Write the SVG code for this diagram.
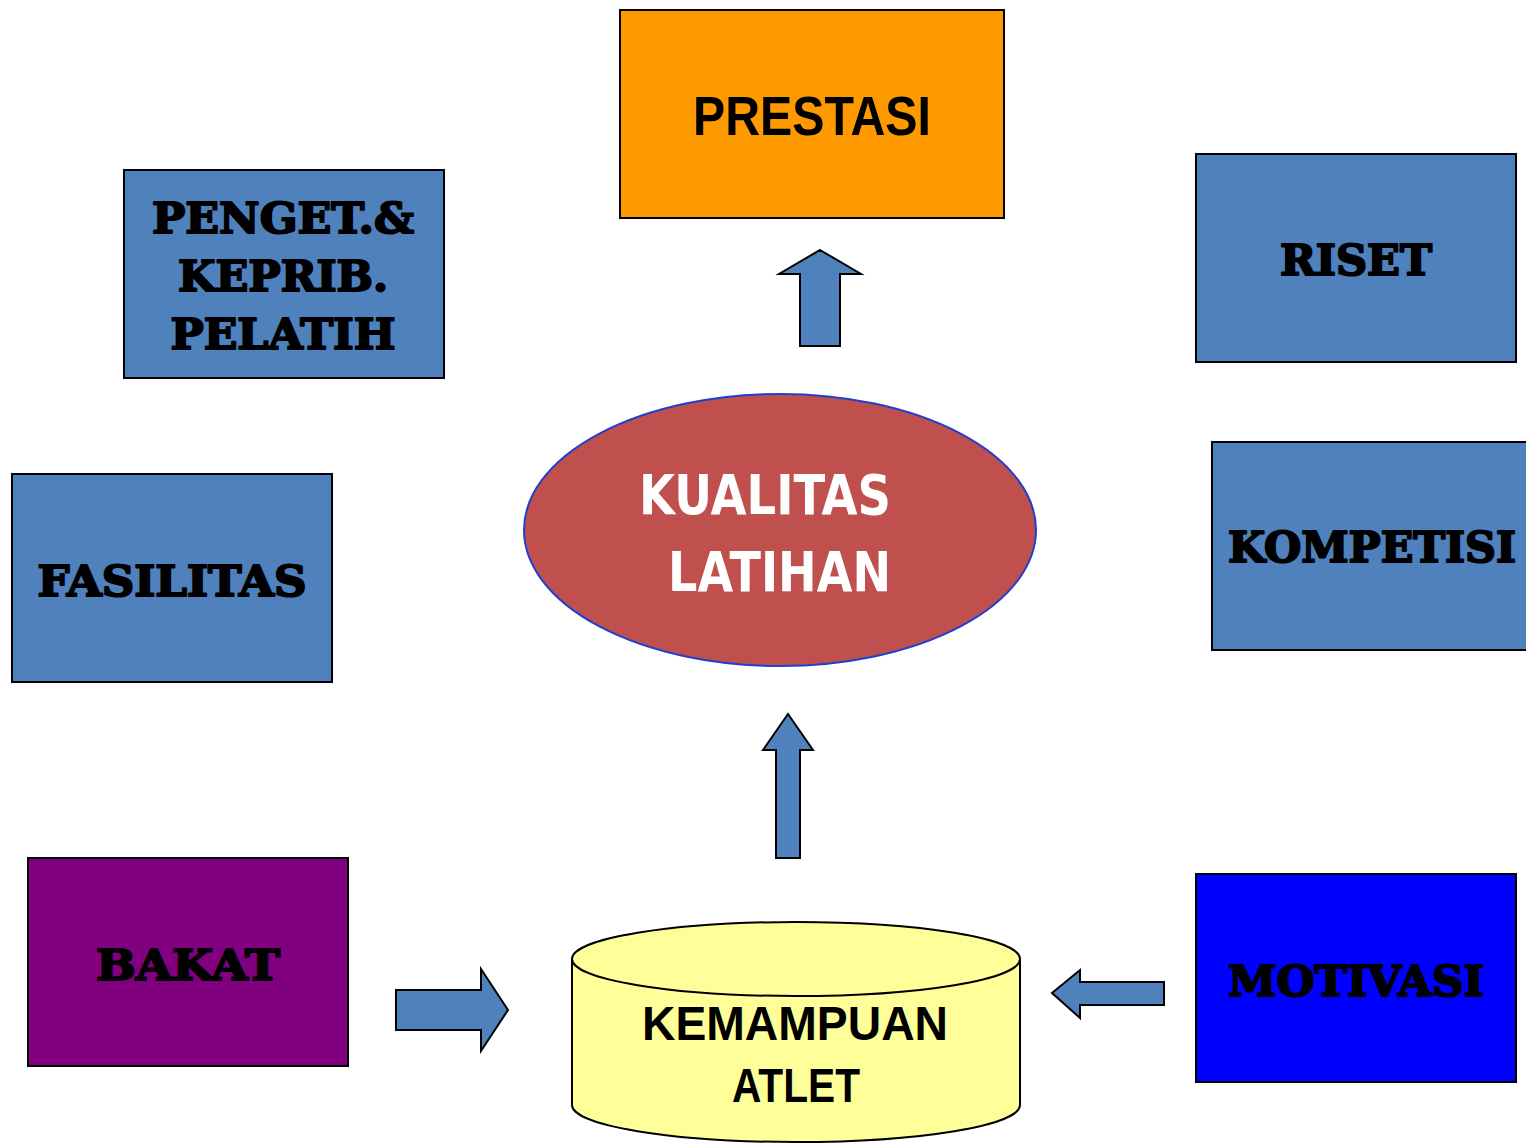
<svg xmlns="http://www.w3.org/2000/svg" width="1526" height="1144" viewBox="0 0 1526 1144">
<style>
.box{stroke:#000;stroke-width:2}
.blue{fill:#4F81BD}
.coop{font-family:"DejaVu Serif","Liberation Serif",serif;font-weight:bold;font-size:42px;fill:#000;stroke:#000;stroke-width:2;text-anchor:middle;stroke-linejoin:round}
.cal{font-family:"Liberation Sans","Open Sans",sans-serif;font-weight:bold;fill:#000;text-anchor:middle}
.sten{font-family:"DejaVu Sans","Liberation Sans",sans-serif;font-weight:bold;font-size:56px;fill:#fff;text-anchor:start}
.arrow{fill:#4F81BD;stroke:#000;stroke-width:2;stroke-linejoin:miter}
</style>
<rect width="1526" height="1144" fill="#fff"/>
<g id="prestasi">
<rect class="box" x="620" y="10" width="384" height="208" fill="#FF9900"/>
<text class="cal" x="812" y="135" font-size="56" textLength="238" lengthAdjust="spacingAndGlyphs">PRESTASI</text>
</g>
<g id="penget">
<rect class="box blue" x="124" y="170" width="320" height="208"/>
<text class="coop" x="283" y="233" textLength="262" lengthAdjust="spacingAndGlyphs">PENGET.&amp;</text>
<text class="coop" x="283" y="291" textLength="210" lengthAdjust="spacingAndGlyphs">KEPRIB.</text>
<text class="coop" x="283" y="349" textLength="225" lengthAdjust="spacingAndGlyphs">PELATIH</text>
</g>
<g id="riset">
<rect class="box blue" x="1196" y="154" width="320" height="208"/>
<text class="coop" x="1356" y="275" textLength="152" lengthAdjust="spacingAndGlyphs">RISET</text>
</g>
<g id="fasilitas">
<rect class="box blue" x="12" y="474" width="320" height="208"/>
<text class="coop" x="172" y="596" textLength="269" lengthAdjust="spacingAndGlyphs">FASILITAS</text>
</g>
<g id="kompetisi">
<rect class="box blue" x="1212" y="442" width="318" height="208"/>
<text class="coop" x="1372" y="562" textLength="288" lengthAdjust="spacingAndGlyphs">KOMPETISI</text>
</g>
<g id="kualitas">
<ellipse cx="780" cy="530" rx="256" ry="136" fill="#C0504D" stroke="#1F3FCF" stroke-width="2"/>
<text class="sten" x="639" y="514" textLength="252" lengthAdjust="spacingAndGlyphs">KUALITAS</text>
<text class="sten" x="668" y="591" textLength="223" lengthAdjust="spacingAndGlyphs">LATIHAN</text>
</g>
<g id="bakat">
<rect class="box" x="28" y="858" width="320" height="208" fill="#800080"/>
<text class="coop" x="188" y="980" textLength="184" lengthAdjust="spacingAndGlyphs">BAKAT</text>
</g>
<g id="motivasi">
<rect class="box" x="1196" y="874" width="320" height="208" fill="#0000FF"/>
<text class="coop" x="1356" y="996" textLength="256" lengthAdjust="spacingAndGlyphs">MOTIVASI</text>
</g>
<g id="kemampuan">
<path d="M572,959 L572,1105 A224,37 0 0 0 1020,1105 L1020,959" fill="#FFFF99" stroke="#000" stroke-width="2"/>
<ellipse cx="796" cy="959" rx="224" ry="37" fill="#FFFF99" stroke="#000" stroke-width="2"/>
<text class="cal" x="795" y="1040" font-size="48" textLength="306" lengthAdjust="spacingAndGlyphs">KEMAMPUAN</text>
<text class="cal" x="796" y="1102" font-size="48" textLength="128" lengthAdjust="spacingAndGlyphs">ATLET</text>
</g>
<g id="connectors">
<polygon class="arrow" points="820,250 861,274 840,274 840,346 800,346 800,274 779,274"/>
<polygon class="arrow" points="788,714 813,750 800,750 800,858 776,858 776,750 763,750"/>
<polygon class="arrow" points="508,1010 481,1051 481,1030 396,1030 396,990 481,990 481,969"/>
<polygon class="arrow" points="1052,993 1080,970 1080,982 1164,982 1164,1005 1080,1005 1080,1018"/>
</g>
</svg>
